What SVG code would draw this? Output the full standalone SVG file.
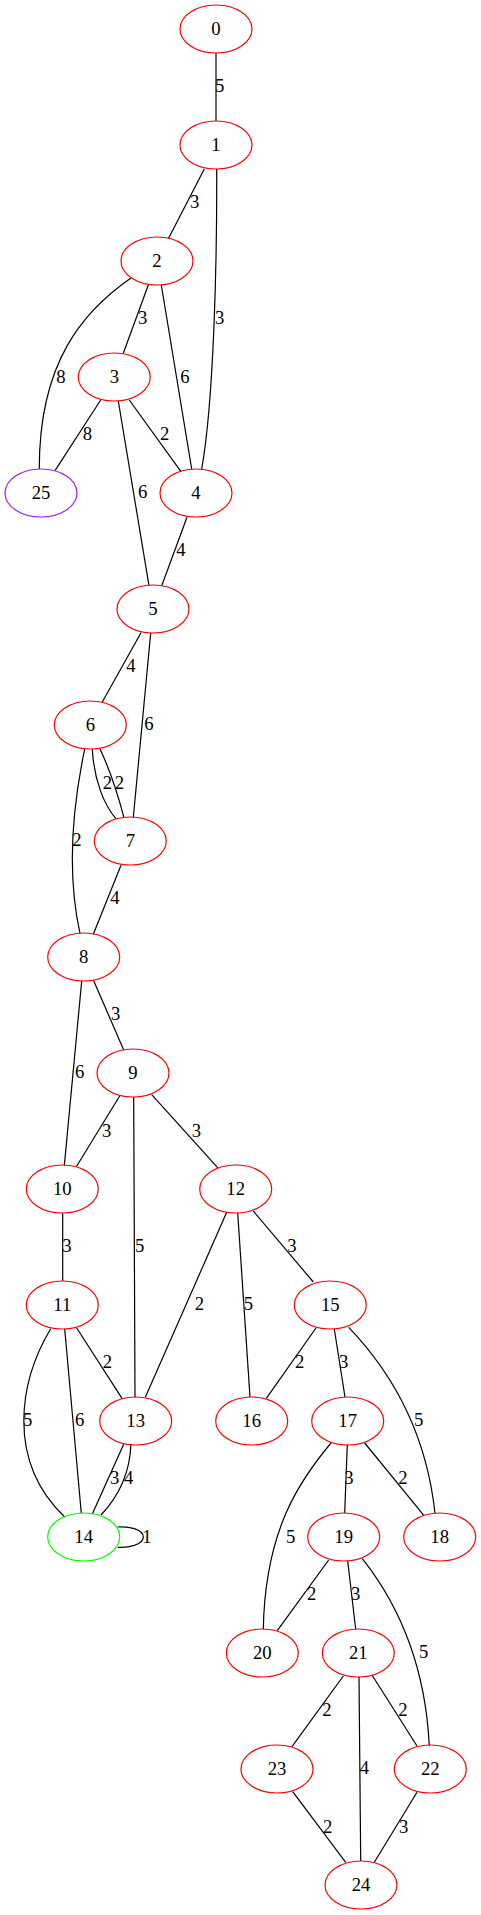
<svg xmlns="http://www.w3.org/2000/svg" width="481" height="1915" viewBox="0 0 481 1915">
<style>
.n ellipse{fill:none;stroke:#ff0000;stroke-width:1.2}
.n text,.l text{font-family:"Liberation Serif",serif;font-size:18.67px;fill:#000;text-anchor:middle}
.e path{fill:none;stroke:#000;stroke-width:1.2}
</style>
<rect width="481" height="1915" fill="#fff"/>
<g id="edges" class="e">
<path d="M216,53 L216,121"/>
<path d="M204.3,169 L168.3,238.7"/>
<path d="M216.7,169 C217,260 214,400 201.7,469"/>
<path d="M131,278 C85,310 39,360 39.3,469"/>
<path d="M148.3,285 L123.3,353.3"/>
<path d="M161.3,285 L191.7,469"/>
<path d="M100.7,400 L55,470.7"/>
<path d="M129.3,400 L181,471.7"/>
<path d="M118.3,401 L149,585.7"/>
<path d="M187,517.3 L161.7,585.7"/>
<path d="M141,632.7 L102.3,702"/>
<path d="M150.7,633 L133.3,817.7"/>
<path d="M92.3,749.3 C94,780 104,805 116,818.7"/>
<path d="M100,749 C110,770 118,795 124,817.7"/>
<path d="M84.7,749 C74,800 66,870 80,933.3"/>
<path d="M121,865.3 L93.3,934.3"/>
<path d="M93.7,980.7 L123.7,1050"/>
<path d="M81.7,981 L64.3,1165.7"/>
<path d="M119.7,1096 L76.3,1166.7"/>
<path d="M133.7,1097 L135,1397.3"/>
<path d="M151.7,1094.7 L218.3,1168.3"/>
<path d="M62.7,1213.3 L62.7,1281"/>
<path d="M226.7,1212.3 L145.3,1397.3"/>
<path d="M237.7,1213 L250,1397"/>
<path d="M253.3,1211 L313.3,1282"/>
<path d="M50.7,1328.7 C20,1380 5,1460 65,1517.3"/>
<path d="M64.7,1329 L81.3,1513.3"/>
<path d="M76.7,1328 L122,1398.3"/>
<path d="M123.7,1444.3 L92.3,1514"/>
<path d="M131,1444 C130,1470 120,1495 101,1515"/>
<path d="M117.7,1527 C128,1526 143.3,1529 143.3,1537 C143.3,1545 128,1548 117.7,1547.3"/>
<path d="M316,1328 L266.3,1398.3"/>
<path d="M334.3,1329 L345,1397"/>
<path d="M348.7,1327.3 C380,1360 425,1420 435,1513.3"/>
<path d="M347.3,1444.7 L344.7,1513"/>
<path d="M364.7,1443 L424,1515.7"/>
<path d="M331,1443 C300,1480 265,1530 263.3,1629.3"/>
<path d="M328.7,1560 L277.3,1630.7"/>
<path d="M347.7,1561 L355.7,1629.3"/>
<path d="M362.3,1558.7 C395,1600 425,1660 429.3,1745.7"/>
<path d="M343.3,1676 L292,1746.7"/>
<path d="M359,1677 L360.7,1861"/>
<path d="M372,1675 L417,1746"/>
<path d="M292.7,1791.7 L345.7,1862.3"/>
<path d="M417,1792.3 L374.3,1862.3"/>
</g>
<g id="edge-labels" class="l">
<text x="219.7" y="92">5</text>
<text x="194.7" y="208">3</text>
<text x="219.7" y="324">3</text>
<text x="61" y="382.7">8</text>
<text x="142.7" y="324">3</text>
<text x="185" y="382.7">6</text>
<text x="87.3" y="440.3">8</text>
<text x="164.7" y="440">2</text>
<text x="142.7" y="498.3">6</text>
<text x="181" y="556">4</text>
<text x="131" y="672">4</text>
<text x="149" y="730.3">6</text>
<text x="107.3" y="788.7">2</text>
<text x="119.3" y="788.7">2</text>
<text x="77" y="846">2</text>
<text x="115" y="904.3">4</text>
<text x="115.7" y="1020">3</text>
<text x="79.7" y="1078.3">6</text>
<text x="106.7" y="1136.7">3</text>
<text x="139.7" y="1252">5</text>
<text x="196.3" y="1136.7">3</text>
<text x="67" y="1252">3</text>
<text x="199.3" y="1310">2</text>
<text x="248.3" y="1310">5</text>
<text x="292" y="1252">3</text>
<text x="27.7" y="1426">5</text>
<text x="79.7" y="1426">6</text>
<text x="107.3" y="1367.7">2</text>
<text x="114.7" y="1484.3">3</text>
<text x="128.7" y="1484">4</text>
<text x="147" y="1543">1</text>
<text x="299.7" y="1367.7">2</text>
<text x="343.7" y="1368">3</text>
<text x="418.7" y="1426">5</text>
<text x="349" y="1484">3</text>
<text x="403" y="1484">2</text>
<text x="290.7" y="1542.7">5</text>
<text x="311.7" y="1600">2</text>
<text x="355.7" y="1600">3</text>
<text x="423.7" y="1657.7">5</text>
<text x="327" y="1716">2</text>
<text x="364.3" y="1774.3">4</text>
<text x="403" y="1716">2</text>
<text x="327.7" y="1832.7">2</text>
<text x="403.7" y="1832.7">3</text>
</g>
<g id="node0" class="n"><ellipse cx="216" cy="29" rx="36" ry="24"/><text x="216" y="35">0</text></g>
<g id="node1" class="n"><ellipse cx="216" cy="145" rx="36" ry="24"/><text x="216" y="151">1</text></g>
<g id="node2" class="n"><ellipse cx="157" cy="261" rx="36" ry="24"/><text x="157" y="267">2</text></g>
<g id="node3" class="n"><ellipse cx="114.3" cy="377" rx="36" ry="24"/><text x="114.3" y="383">3</text></g>
<g id="node25" class="n"><ellipse cx="41" cy="493" rx="36" ry="24" style="stroke:#a020f0"/><text x="41" y="499">25</text></g>
<g id="node4" class="n"><ellipse cx="196" cy="493" rx="36" ry="24"/><text x="196" y="499">4</text></g>
<g id="node5" class="n"><ellipse cx="153" cy="609" rx="36" ry="24"/><text x="153" y="615">5</text></g>
<g id="node6" class="n"><ellipse cx="90.3" cy="725" rx="36" ry="24"/><text x="90.3" y="731">6</text></g>
<g id="node7" class="n"><ellipse cx="130.3" cy="841" rx="36" ry="24"/><text x="130.3" y="847">7</text></g>
<g id="node8" class="n"><ellipse cx="83.7" cy="957" rx="36" ry="24"/><text x="83.7" y="963">8</text></g>
<g id="node9" class="n"><ellipse cx="133" cy="1073" rx="36" ry="24"/><text x="133" y="1079">9</text></g>
<g id="node10" class="n"><ellipse cx="62.3" cy="1189" rx="36" ry="24"/><text x="62.3" y="1195">10</text></g>
<g id="node12" class="n"><ellipse cx="235.7" cy="1189" rx="36" ry="24"/><text x="235.7" y="1195">12</text></g>
<g id="node11" class="n"><ellipse cx="62.3" cy="1305" rx="36" ry="24"/><text x="62.3" y="1311">11</text></g>
<g id="node15" class="n"><ellipse cx="330.3" cy="1305" rx="36" ry="24"/><text x="330.3" y="1311">15</text></g>
<g id="node13" class="n"><ellipse cx="135.7" cy="1421" rx="36" ry="24"/><text x="135.7" y="1427">13</text></g>
<g id="node16" class="n"><ellipse cx="251.7" cy="1421" rx="36" ry="24"/><text x="251.7" y="1427">16</text></g>
<g id="node17" class="n"><ellipse cx="347.7" cy="1421" rx="36" ry="24"/><text x="347.7" y="1427">17</text></g>
<g id="node14" class="n"><ellipse cx="83.7" cy="1537" rx="36" ry="24" style="stroke:#00ff00"/><text x="83.7" y="1543">14</text></g>
<g id="node19" class="n"><ellipse cx="343.7" cy="1537" rx="36" ry="24"/><text x="343.7" y="1543">19</text></g>
<g id="node18" class="n"><ellipse cx="439.7" cy="1537" rx="36" ry="24"/><text x="439.7" y="1543">18</text></g>
<g id="node20" class="n"><ellipse cx="262.3" cy="1653" rx="36" ry="24"/><text x="262.3" y="1659">20</text></g>
<g id="node21" class="n"><ellipse cx="358.3" cy="1653" rx="36" ry="24"/><text x="358.3" y="1659">21</text></g>
<g id="node23" class="n"><ellipse cx="277" cy="1769" rx="36" ry="24"/><text x="277" y="1775">23</text></g>
<g id="node22" class="n"><ellipse cx="430.3" cy="1769" rx="36" ry="24"/><text x="430.3" y="1775">22</text></g>
<g id="node24" class="n"><ellipse cx="361" cy="1885" rx="36" ry="24"/><text x="361" y="1891">24</text></g>
</svg>
